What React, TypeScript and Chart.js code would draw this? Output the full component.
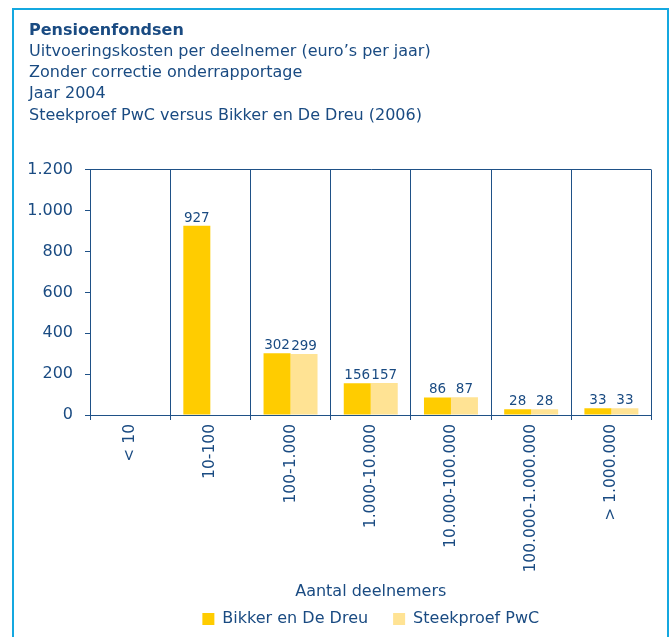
import React, { useEffect, useRef } from "react";
import { Chart, registerables } from "chart.js";

Chart.register(...registerables);

const categories = ["< 10", "10-100", "100-1.000", "1.000-10.000", "10.000-100.000", "100.000-1.000.000", "> 1.000.000"];
const bikkerValues = [null, 927, 302, 156, 86, 28, 33];
const pwcValues = [null, null, 299, 157, 87, 28, 33];
const seriesNames = ["Bikker en De Dreu", "Steekproef PwC"];
const titleText = "Pensioenfondsen";
const subtitleLines = [
  "Uitvoeringskosten per deelnemer (euro\u2019s per jaar)",
  "Zonder correctie onderrapportage",
  "Jaar 2004",
  "Steekproef PwC versus Bikker en De Dreu (2006)",
];
const xAxisTitle = "Aantal deelnemers";
const yMin = 0;
const yMax = 1200;
const yStep = 200;

const TEXT = "#1a4b82";
const LINE = "#1f5187";
const FONT = "'DejaVu Sans', sans-serif";

const formatThousands = (v: number) => String(v).replace(/\B(?=(\d{3})+(?!\d))/g, ".");

const valueLabels = {
  id: "valueLabels",
  afterDatasetsDraw(chart: any) {
    const ctx = chart.ctx;
    ctx.save();
    ctx.font = `13.5px ${FONT}`;
    ctx.fillStyle = TEXT;
    ctx.textAlign = "center";
    ctx.textBaseline = "alphabetic";
    chart.data.datasets.forEach((ds: any, di: number) => {
      const meta = chart.getDatasetMeta(di);
      meta.data.forEach((el: any, i: number) => {
        const v = ds.data[i];
        if (v === null || v === undefined) return;
        ctx.fillText(formatThousands(v), el.x, el.y - 4);
      });
    });
    ctx.restore();
  },
};

export default function App() {
  const ref = useRef<HTMLCanvasElement | null>(null);

  useEffect(() => {
    if (!ref.current) return;
    const chart = new Chart(ref.current, {
      type: "bar",
      data: {
        labels: categories,
        datasets: [
          { label: seriesNames[0], data: bikkerValues, backgroundColor: "#ffcc00", borderWidth: 0 },
          { label: seriesNames[1], data: pwcValues, backgroundColor: "#ffe394", borderWidth: 0 },
        ],
      },
      options: {
        responsive: false,
        animation: false,
        layout: { padding: { left: 29, right: 19.5, top: 0, bottom: 0 } },
        datasets: { bar: { barPercentage: 1, categoryPercentage: 0.673 } } as any,
        plugins: {
          tooltip: { enabled: false },
          title: {
            display: true,
            text: titleText,
            align: "start",
            color: TEXT,
            font: { family: FONT, size: 16, weight: "bold", lineHeight: 1.2 },
            padding: { top: 21, bottom: 0 },
          },
          subtitle: {
            display: true,
            text: subtitleLines,
            align: "start",
            color: TEXT,
            font: { family: FONT, size: 16, lineHeight: 1.3333 },
            padding: { top: 0.6, bottom: 43.8 },
          },
          legend: {
            display: true,
            position: "bottom",
            fullSize: false,
            labels: {
              boxWidth: 12,
              boxHeight: 12,
              padding: 25,
              color: TEXT,
              font: { family: FONT, size: 16 },
            },
          },
        },
        scales: {
          x: {
            grid: { offset: true, color: LINE, lineWidth: 1, tickLength: 5, tickColor: LINE },
            border: { display: true, color: LINE, width: 1 },
            ticks: {
              minRotation: 90,
              maxRotation: 90,
              autoSkip: false,
              padding: 4,
              color: TEXT,
              font: { family: FONT, size: 15.5 },
            },
            title: {
              display: true,
              text: xAxisTitle,
              color: TEXT,
              font: { family: FONT, size: 16, lineHeight: 1.2 },
              padding: { top: 0, bottom: -15.6 },
            },
            afterFit: (scale: any) => {
              scale.height = 171;
            },
          },
          y: {
            min: yMin,
            max: yMax,
            ticks: {
              stepSize: yStep,
              padding: 12,
              color: TEXT,
              font: { family: FONT, size: 16 },
              callback: (v: any) => formatThousands(Number(v)),
            },
            grid: {
              color: (c: any) => (c.tick && c.tick.value === yMax ? LINE : "rgba(0,0,0,0)"),
              lineWidth: 1,
              tickLength: 5,
              tickColor: LINE,
            },
            border: { display: true, color: LINE, width: 1 },
            afterFit: (scale: any) => {
              scale.width = 61;
            },
          },
        },
      },
      plugins: [valueLabels],
    } as any);
    return () => chart.destroy();
  }, []);

  return (
    <>
      <canvas
        ref={ref}
        width={671}
        height={637}
        style={{ position: "absolute", left: 0, top: 0, width: 671, height: 637 }}
      />
      <div
        style={{
          position: "absolute",
          left: 12,
          top: 8,
          width: 657,
          height: 629,
          boxSizing: "border-box",
          borderTop: "2.5px solid #14a8e0",
          borderLeft: "2.5px solid #14a8e0",
          borderRight: "2.5px solid #14a8e0",
          pointerEvents: "none",
        }}
      />
    </>
  );
}
